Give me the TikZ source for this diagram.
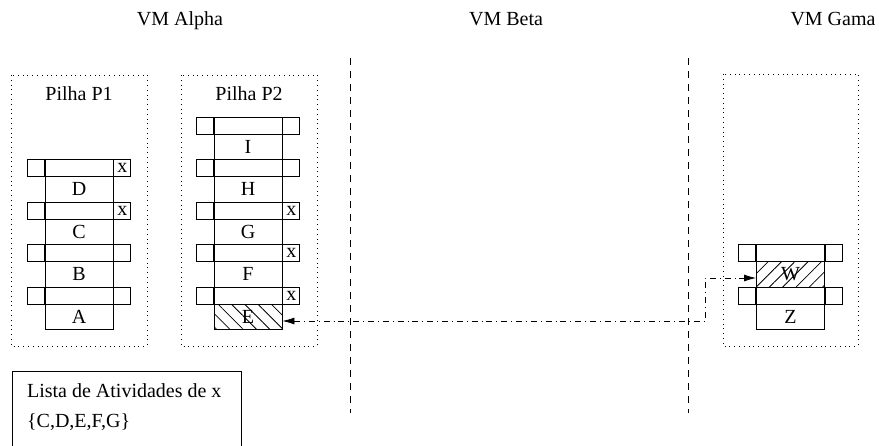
\documentclass[tikz,border=0pt]{standalone}
\usepackage{fontspec}
\setmainfont{Liberation Serif}
\usetikzlibrary{arrows.meta,positioning,patterns.meta}

\begin{document}
\begin{tikzpicture}[x=0.5pt,y=-0.5pt,
      cell/.style={draw,minimum width=34pt,minimum height=12.75pt,inner sep=0pt},
      nwcell/.style={cell,pattern={Lines[angle=-45,distance=4.7pt]}},
      necell/.style={cell,pattern={Lines[angle=45,distance=4.7pt]}},
      mid/.style={draw,minimum width=34pt,minimum height=8.5pt,inner sep=0pt},
      stub/.style={draw,minimum width=8.5pt,minimum height=8.5pt,inner sep=0pt},
      pilha/.style={draw,dotted},
      sep/.style={dash pattern=on 3.5pt off 3pt},
      arr/.style={{Latex[length=6pt,width=3.5pt]}-{Latex[length=6pt,width=3.5pt]},dash dot}
    ]
      \clip (0,0) rectangle (879,445);

      % VMs
      \node[anchor=base] (alpha) at (180,25) {VM Alpha};
      \node[anchor=base] (beta) at (506,25) {VM Beta};
      \node[anchor=base] (gama) at (833,25) {VM Gama};
      \draw[sep] (350,58) -- (350,413);
      \draw[sep] (688,58) -- (688,413);

      % pilha P1
      \draw[pilha] (11,75) rectangle (147,346);
      \node[anchor=base] (p1) at (79,100) {Pilha P1};
      \foreach \k/\c in {0/A,1/B,2/C,3/D} {
        \node[cell] (\c) at (79,{316.75-42.5*\k}) {\c};
        \node[mid] (m1\k) at (79,{295.5-42.5*\k}) {};
        \node[stub,left=0pt of m1\k] (l1\k) {};
        \node[stub,right=0pt of m1\k] (r1\k) {};
      }
      \foreach \k in {2,3} \node (x1\k) at (r1\k) {x};

      % pilha P2
      \draw[pilha] (181,75) rectangle (317,346);
      \node[anchor=base] (p2) at (249,100) {Pilha P2};
      \foreach \k/\c/\s in {0/E/nwcell,1/F/cell,2/G/cell,3/H/cell,4/I/cell} {
        \node[\s] (\c) at (248,{316.75-42.5*\k}) {\c};
        \node[mid] (m2\k) at (248,{295.5-42.5*\k}) {};
        \node[stub,left=0pt of m2\k] (l2\k) {};
        \node[stub,right=0pt of m2\k] (r2\k) {};
      }
      \foreach \k in {0,1,2} \node (x2\k) at (r2\k) {x};

      % gama
      \draw[pilha] (723,74) rectangle (858,346);
      \foreach \k/\c/\s in {0/Z/cell,1/W/necell} {
        \node[\s] (\c) at (790.5,{316.75-42.5*\k}) {\c};
        \node[mid] (m3\k) at (790.5,{295.5-42.5*\k}) {};
        \node[stub,left=0pt of m3\k] (l3\k) {};
        \node[stub,right=0pt of m3\k] (r3\k) {};
      }

      % migracao
      \coordinate (k1) at (705,321);
      \coordinate (k2) at (705,278);
      \draw[arr] (E.east |- k1) -- (k1) -- (k2) -- (W.west |- k2);

      % lista
      \draw (12,371) rectangle (241,460);
      \node[anchor=base west] (lista) at (20,397) {Lista de Atividades de x};
      \node[anchor=base west] (conj) at (20,427) {\{C,D,E,F,G\}};
    \end{tikzpicture}
\end{document}
